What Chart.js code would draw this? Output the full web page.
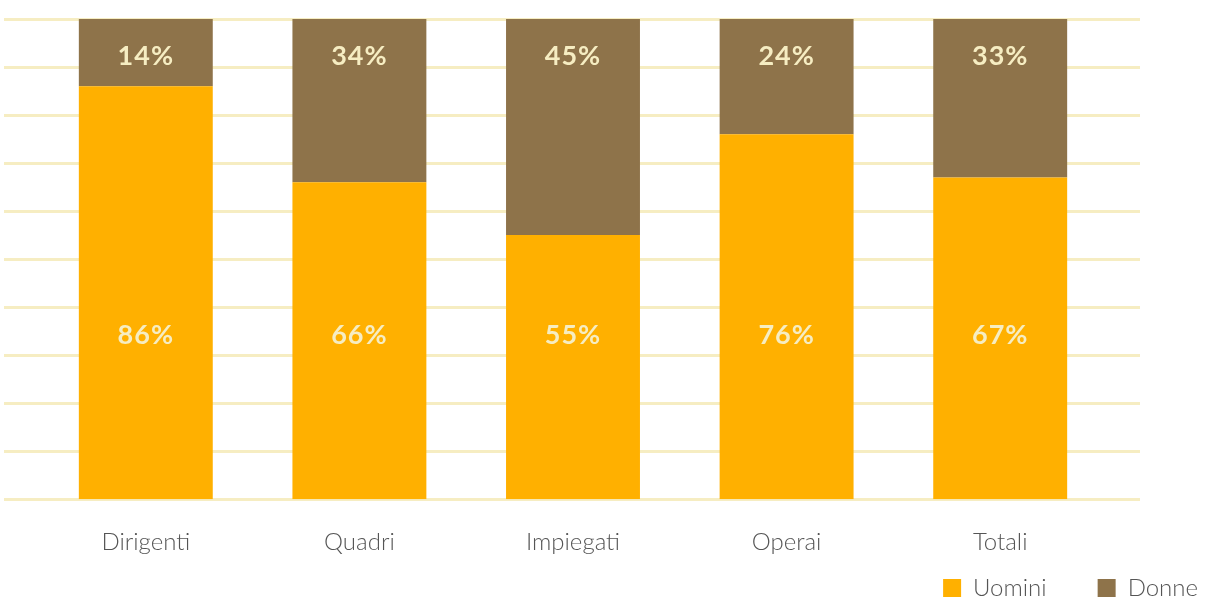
<!DOCTYPE html>
<html lang="it">
<head>
<meta charset="UTF-8">
<title>Uomini e Donne per categoria</title>
<script src="https://cdn.jsdelivr.net/npm/chart.js"></script>
<style>
  html, body { margin: 0; padding: 0; background: #fff; }
  #wrap { width: 1209px; height: 599px; }
</style>
</head>
<body>
<div id="wrap"><canvas id="genderChart" width="1209" height="599"></canvas></div>
<script>
const categories = ['Dirigenti', 'Quadri', 'Impiegati', 'Operai', 'Totali'];
const uomini = [86, 66, 55, 76, 67];
const donne = [14, 34, 45, 24, 33];
const yTicks = [0, 10, 20, 30, 40, 50, 60, 70, 80, 90, 100];

const ORANGE = '#FFB000';
const BROWN = '#8E734A';
const CREAM = '#F6EDC2';

// gridlines run wider than the bars area in the original
const wideGrid = {
  id: 'wideGrid',
  beforeDatasetsDraw(chart) {
    const ctx = chart.ctx;
    const y = chart.scales.y;
    ctx.save();
    ctx.strokeStyle = CREAM;
    ctx.lineWidth = 3;
    yTicks.forEach(v => {
      const py = Math.round(y.getPixelForValue(v)) + 0.5;
      ctx.beginPath();
      ctx.moveTo(4, py);
      ctx.lineTo(1140, py);
      ctx.stroke();
    });
    ctx.restore();
  }
};

// value labels sit at fixed heights inside the bars
const barLabels = {
  id: 'barLabels',
  afterDatasetsDraw(chart) {
    const ctx = chart.ctx;
    const y = chart.scales.y;
    ctx.save();
    ctx.fillStyle = CREAM;
    ctx.font = 'bold 27px Lato';
    ctx.letterSpacing = '1px';
    ctx.textAlign = 'center';
    ctx.textBaseline = 'middle';
    chart.getDatasetMeta(0).data.forEach((bar, i) => {
      ctx.fillText(uomini[i] + '%', bar.x, y.getPixelForValue(34.2));
    });
    chart.getDatasetMeta(1).data.forEach((bar, i) => {
      ctx.fillText(donne[i] + '%', bar.x, y.getPixelForValue(92.3));
    });
    ctx.restore();
  }
};

// move the legend to the bottom right edge, as in the original
const legendShift = {
  id: 'legendShift',
  afterLayout(chart) {
    const lg = chart.legend;
    lg.right = 1249;
    lg.top -= 53;
    lg.bottom -= 53;
  }
};

new Chart(document.getElementById('genderChart'), {
  type: 'bar',
  data: {
    labels: categories,
    datasets: [
      { label: 'Uomini', data: uomini, backgroundColor: ORANGE },
      { label: 'Donne', data: donne, backgroundColor: BROWN }
    ]
  },
  options: {
    responsive: false,
    animation: false,
    layout: { padding: { left: 39, right: 102, top: 19, bottom: -64 } },
    datasets: { bar: { categoryPercentage: 1, barPercentage: 0.627 } },
    scales: {
      x: {
        stacked: true,
        grid: { display: false },
        border: { display: false },
        ticks: { color: '#555', font: { family: 'Lato', size: 24, weight: '300' }, padding: 21 }
      },
      y: {
        stacked: true,
        display: false,
        min: 0,
        max: 100
      }
    },
    plugins: {
      legend: {
        position: 'bottom',
        align: 'end',
        labels: {
          boxWidth: 18,
          boxHeight: 18,
          padding: 51,
          color: '#555',
          font: { family: 'Lato', size: 24, weight: '300' }
        }
      },
      tooltip: { enabled: false }
    }
  },
  plugins: [wideGrid, barLabels, legendShift]
});
</script>
</body>
</html>
